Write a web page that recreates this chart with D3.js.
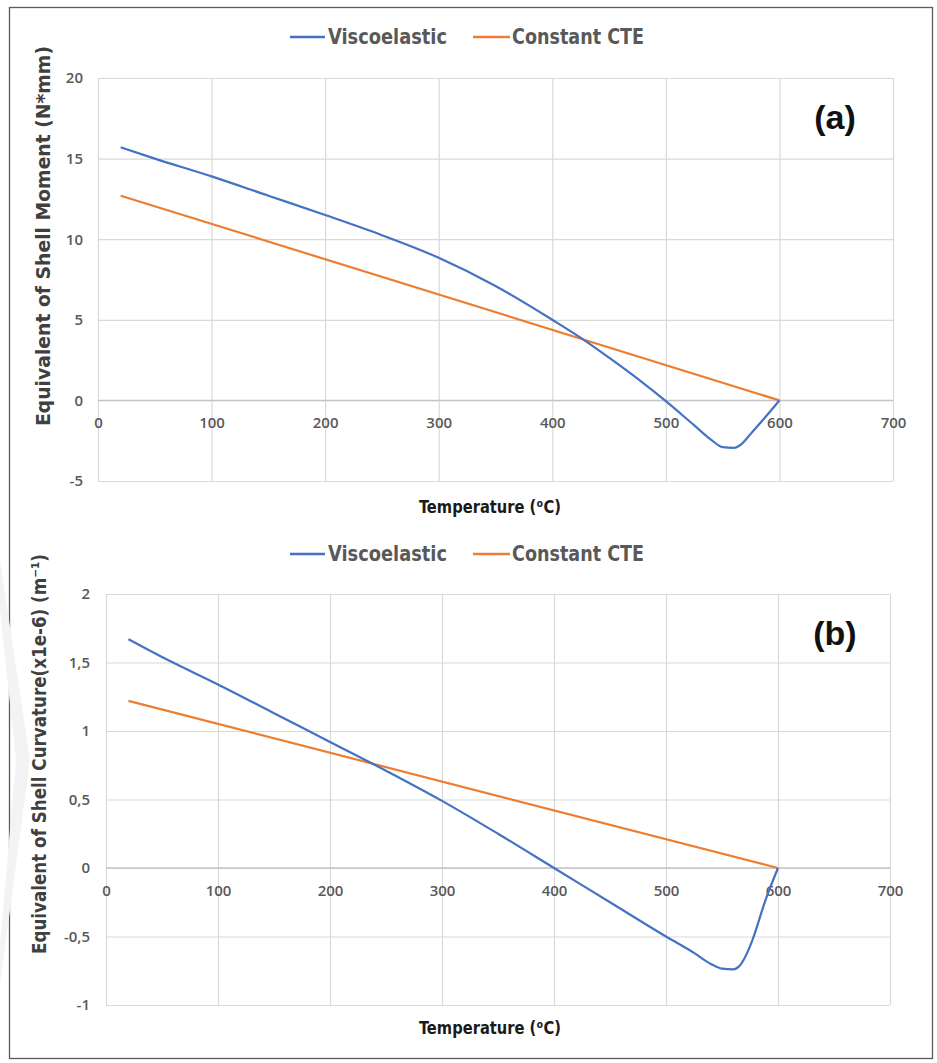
<!DOCTYPE html>
<html>
<head>
<meta charset="utf-8">
<script src="https://cdn.jsdelivr.net/npm/d3@7"></script>
<style>
  html, body { margin: 0; padding: 0; background: #fff; }
  svg { display: block; }
  text { font-family: "Liberation Sans Narrow", "DejaVu Sans Condensed", "Liberation Sans", Arial, sans-serif; }
</style>
</head>
<body>
<svg id="chart" width="937" height="1063"></svg>
<script>
// Series names
const seriesNames = ["Viscoelastic", "Constant CTE"];

// Panel (a): equivalent shell moment (N*mm) vs temperature (°C)
const momentViscoT = [20, 50, 100, 150, 200, 250, 300, 350, 400, 430, 450, 475, 500, 525, 540, 550, 560, 565, 575, 585, 600];
const momentViscoV = [15.7, 15.0, 13.9, 12.7, 11.5, 10.25, 8.85, 7.1, 5.0, 3.65, 2.65, 1.35, -0.05, -1.55, -2.45, -2.9, -2.95, -2.8, -2.05, -1.25, 0];
const momentCteT = [20, 600];
const momentCteV = [12.7, 0];

// Panel (b): equivalent shell curvature (x1e-6 m^-1) vs temperature (°C)
const curvViscoT = [20, 50, 100, 150, 200, 250, 300, 350, 400, 450, 500, 525, 540, 550, 560, 565, 570, 577, 589, 600];
const curvViscoV = [1.67, 1.54, 1.34, 1.13, 0.92, 0.71, 0.49, 0.25, 0.0, -0.25, -0.5, -0.62, -0.70, -0.735, -0.74, -0.72, -0.66, -0.53, -0.23, 0];
const curvCteT = [20, 600];
const curvCteV = [1.22, 0];

// Tick values
const xTicks = [0, 100, 200, 300, 400, 500, 600, 700];
const momentTicks = [20, 15, 10, 5, 0, -5];
const curvTicks = [2, 1.5, 1, 0.5, 0, -0.5, -1];

// Axis titles
const xTitle = "Temperature (\u1D52C)";
const momentTitle = "Equivalent of Shell Moment (N*mm)";
const curvTitle = "Equivalent of Shell Curvature(x1e-6) (m\u207B\u00B9)";

const BLUE = "#4472C4";
const ORANGE = "#ED7D31";
const GRID = "#d9d9d9";
const TICK_COLOR = "#595959";

const svg = d3.select("#chart");

// outer frame
svg.append("rect")
  .attr("x", 9.5).attr("y", 7.5)
  .attr("width", 923).attr("height", 1051)
  .attr("fill", "none").attr("stroke", "#5a5a5a").attr("stroke-width", 1.3);

// faint background mark on the left edge
svg.append("path")
  .attr("d", "M0,560 L30,760 L0,985 L0,945 L16,760 L0,610 Z")
  .attr("fill", "#f3f3f3");

const fmt = v => String(v).replace(".", ",");

function drawPanel(cfg) {
  const x = d3.scaleLinear().domain([0, 700]).range([cfg.left, cfg.right]);
  const y = d3.scaleLinear().domain(cfg.yDomain).range([cfg.bottom, cfg.top]);
  const g = svg.append("g");

  // horizontal grid
  g.append("g")
    .attr("transform", `translate(${cfg.left},0)`)
    .call(d3.axisLeft(y).tickValues(cfg.yTicks).tickSize(-(cfg.right - cfg.left)).tickFormat(""))
    .call(s => s.select(".domain").remove())
    .call(s => s.selectAll("line").attr("stroke", GRID).attr("stroke-width", 1.2));

  // vertical grid
  g.append("g")
    .attr("transform", `translate(0,${cfg.bottom})`)
    .call(d3.axisBottom(x).tickValues(xTicks).tickSize(-(cfg.bottom - cfg.top)).tickFormat(""))
    .call(s => s.select(".domain").remove())
    .call(s => s.selectAll("line").attr("stroke", GRID).attr("stroke-width", 1.2));

  // zero line (horizontal axis)
  g.append("line")
    .attr("x1", cfg.left).attr("x2", cfg.right)
    .attr("y1", y(0)).attr("y2", y(0))
    .attr("stroke", "#c4c4c4").attr("stroke-width", 1.4);

  // y tick labels
  g.append("g")
    .attr("transform", `translate(${cfg.yLabelX},0)`)
    .call(d3.axisLeft(y).tickValues(cfg.yTicks).tickSize(0).tickPadding(0).tickFormat(fmt))
    .call(s => s.select(".domain").remove())
    .call(s => s.selectAll("text")
      .attr("fill", TICK_COLOR)
      .style("font-family", '"Open Sans", "Liberation Sans", Arial, sans-serif')
      .style("font-weight", "600")
      .style("font-size", "15px"));

  // x tick labels placed just below the zero line
  g.append("g")
    .attr("transform", `translate(0,${y(0)})`)
    .call(d3.axisBottom(x).tickValues(xTicks).tickSize(0).tickPadding(17).tickFormat(d => d))
    .call(s => s.select(".domain").remove())
    .call(s => s.selectAll("text")
      .attr("fill", TICK_COLOR)
      .style("font-family", '"Open Sans", "Liberation Sans", Arial, sans-serif')
      .style("font-weight", "600")
      .style("font-size", "15px"));

  const line = d3.line()
    .x(d => x(d[0])).y(d => y(d[1]))
    .curve(d3.curveMonotoneX);

  const cte = d3.zip(cfg.cteT, cfg.cteV);
  const visco = d3.zip(cfg.viscoT, cfg.viscoV);

  g.append("path").datum(cte)
    .attr("d", line).attr("fill", "none")
    .attr("stroke", ORANGE).attr("stroke-width", 2.2);
  g.append("path").datum(visco)
    .attr("d", line).attr("fill", "none")
    .attr("stroke", BLUE).attr("stroke-width", 2.2)
    .attr("stroke-linejoin", "round");

  // legend
  const lg = g.append("g").attr("transform", `translate(0,${cfg.legendY})`);
  const items = [
    { name: seriesNames[0], color: BLUE, x0: 290, x1: 325, tx: 328, tw: 119 },
    { name: seriesNames[1], color: ORANGE, x0: 473, x1: 510, tx: 512, tw: 132 }
  ];
  items.forEach(it => {
    lg.append("line").attr("x1", it.x0).attr("x2", it.x1).attr("y1", 0).attr("y2", 0)
      .attr("stroke", it.color).attr("stroke-width", 2.5);
    lg.append("text").attr("x", it.tx).attr("y", 7)
      .attr("fill", TICK_COLOR)
      .style("font-size", "21px").style("font-weight", "bold")
      .attr("textLength", it.tw).attr("lengthAdjust", "spacingAndGlyphs")
      .text(it.name);
  });

  // panel tag
  g.append("text")
    .attr("x", cfg.tagX).attr("y", cfg.tagY)
    .attr("text-anchor", "middle")
    .attr("fill", "#111")
    .style("font-family", '"Liberation Sans", Arial, sans-serif')
    .style("font-weight", "bold").style("font-size", "34px")
    .text(cfg.tag);

  // x title
  g.append("text")
    .attr("x", 490).attr("y", cfg.xTitleY)
    .attr("text-anchor", "middle")
    .attr("fill", "#1a1a1a")
    .style("font-weight", "bold").style("font-size", "18px")
    .attr("textLength", 142).attr("lengthAdjust", "spacingAndGlyphs")
    .text(xTitle);

  // y title
  g.append("text")
    .attr("transform", `translate(${cfg.yTitleX},${cfg.yTitleY}) rotate(-90)`)
    .attr("text-anchor", "middle")
    .attr("fill", "#404040")
    .style("font-weight", "bold").style("font-size", "20px")
    .attr("textLength", cfg.yTitleLen).attr("lengthAdjust", "spacingAndGlyphs")
    .text(cfg.yTitle);
}

drawPanel({
  left: 98, right: 893, top: 78, bottom: 481,
  yDomain: [-5, 20], yTicks: momentTicks, yLabelX: 83,
  viscoT: momentViscoT, viscoV: momentViscoV, cteT: momentCteT, cteV: momentCteV,
  legendY: 37, tag: "(a)", tagX: 835, tagY: 129,
  xTitleY: 513, yTitleX: 50, yTitleY: 236, yTitleLen: 380,
  yTitle: momentTitle
});

drawPanel({
  left: 106, right: 890, top: 594, bottom: 1005,
  yDomain: [-1, 2], yTicks: curvTicks, yLabelX: 90,
  viscoT: curvViscoT, viscoV: curvViscoV, cteT: curvCteT, cteV: curvCteV,
  legendY: 554, tag: "(b)", tagX: 835, tagY: 645,
  xTitleY: 1034, yTitleX: 46, yTitleY: 754, yTitleLen: 400,
  yTitle: curvTitle
});
</script>
</body>
</html>
